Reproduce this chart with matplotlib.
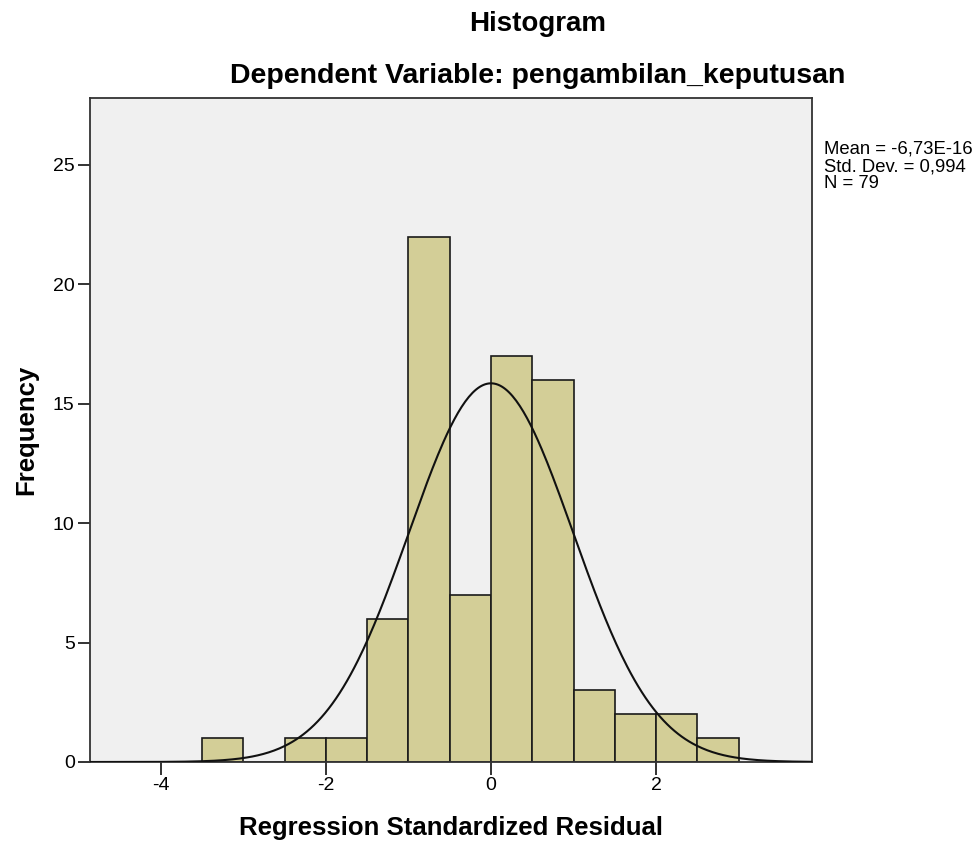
import numpy as np
import matplotlib.pyplot as plt

plt.rcParams['font.family'] = ['Liberation Sans', 'DejaVu Sans']
plt.rcParams['axes.unicode_minus'] = False

# histogram bins of regression standardized residuals
bin_edges = [-3.5, -3.0, -2.5, -2.0, -1.5, -1.0, -0.5, 0.0, 0.5, 1.0, 1.5, 2.0, 2.5, 3.0]
counts = [1, 0, 1, 1, 6, 22, 7, 17, 16, 3, 2, 2, 1]
mean = -6.73e-16
std = 0.994
n = 79
x_ticks = [-4, -2, 0, 2]
y_ticks = [0, 5, 10, 15, 20, 25]

fig = plt.figure(figsize=(9.8, 8.46), dpi=100)
ax = fig.add_axes([0.0918, 0.0993, 0.7368, 0.7849])
ax.set_facecolor('#f0f0f0')

edges = np.array(bin_edges)
widths = np.diff(edges)
ax.bar(edges[:-1], counts, width=widths, align='edge',
       color='#d3ce97', edgecolor='#1a1a1a', linewidth=1.2, zorder=2)

# normal curve scaled to counts
xs = np.linspace(-4.9, 3.9, 400)
bw = widths[0]
ys = n * bw / (std * np.sqrt(2 * np.pi)) * np.exp(-0.5 * ((xs - mean) / std) ** 2)
ax.plot(xs, ys, color='#111111', linewidth=1.5, zorder=3)

ax.set_xlim(-4.86, 3.89)
ax.set_ylim(0, 27.8)
ax.set_xticks(x_ticks)
ax.set_yticks(y_ticks)
ax.tick_params(direction='out', length=9, width=1.3, labelsize=14, pad=2, color='#222222')
for s in ax.spines.values():
    s.set_color('#333333')
    s.set_linewidth(1.3)

ax.set_xlabel('Regression Standardized Residual', fontsize=18.5, fontweight='bold', va='center')
ax.set_ylabel('Frequency', fontsize=18.5, fontweight='bold', va='center')
ax.xaxis.set_label_coords(0.5, -0.0994)
ax.yaxis.set_label_coords(-0.0886, 0.5)

fig.text(0.549, 0.972, 'Histogram', ha='center', va='center', fontsize=20, fontweight='bold')
fig.text(0.549, 0.910, 'Dependent Variable: pengambilan_keputusan', ha='center', va='center',
         fontsize=20.5, fontweight='bold')

fig.text(0.841, 0.803, 'Mean = -6,73E-16\nStd. Dev. = 0,994\nN = 79', ha='left', va='center',
         fontsize=13.3, linespacing=1.02)

fig.savefig('out.png', dpi=100)
